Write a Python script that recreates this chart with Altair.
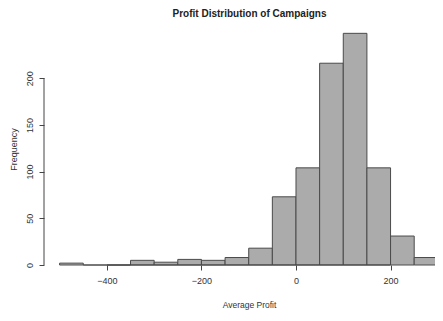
import altair as alt
import pandas as pd

# Histogram bins (width 50) and counts
bin_start = [-500, -450, -400, -350, -300, -250, -200, -150, -100, -50, 0, 50, 100, 150, 200, 250]
bin_end = [-450, -400, -350, -300, -250, -200, -150, -100, -50, 0, 50, 100, 150, 200, 250, 300]
counts = [2, 0, 0, 5, 3, 6, 5, 8, 18, 73, 104, 216, 248, 104, 31, 8]

x_ticks = [-400, -200, 0, 200]
y_ticks = [0, 50, 100, 150, 200]

df = pd.DataFrame({"start": bin_start, "end": bin_end, "count": counts})
yaxis_df = pd.DataFrame({"lo": [y_ticks[0]], "hi": [y_ticks[-1]]})
xaxis_df = pd.DataFrame({"lo": [x_ticks[0]], "hi": [x_ticks[-1]]})

FONT = "Liberation Sans"
xscale = alt.Scale(domain=[-533, 294], nice=False, zero=False)
yscale = alt.Scale(domain=[0, 258], nice=False, zero=False)

bars = alt.Chart(df).mark_rect(fill="#ababab", stroke="#4a4a4a", strokeWidth=1).encode(
    x=alt.X("start:Q", scale=xscale,
            axis=alt.Axis(values=x_ticks, domain=False, grid=False, tickSize=5,
                          tickColor="#444", labelFont=FONT, labelFontSize=9,
                          labelColor="#333", labelPadding=6,
                          title="Average Profit", titleFont=FONT, titleFontSize=8.5,
                          titleFontWeight="normal", titleColor="#333",
                          titleX=205, titleY=39, titleBaseline="middle")),
    x2="end:Q",
    y=alt.Y("count:Q", scale=yscale,
            axis=alt.Axis(values=y_ticks, domain=False, grid=False, tickSize=5,
                          tickColor="#444", labelFont=FONT, labelFontSize=9,
                          labelColor="#333", labelAngle=-90, labelAlign="center",
                          labelBaseline="bottom", labelPadding=5,
                          title="Frequency", titleFont=FONT, titleFontSize=9,
                          titleFontWeight="normal", titleColor="#333",
                          titleAngle=-90, titleX=-31, titleY=125,
                          titleBaseline="middle")),
    y2=alt.datum(0),
)

yaxis_line = alt.Chart(yaxis_df).mark_rule(color="#444", strokeWidth=1).encode(
    x=alt.value(0), y=alt.Y("lo:Q", scale=yscale), y2="hi:Q"
)
xaxis_line = alt.Chart(xaxis_df).mark_rule(color="#444", strokeWidth=1).encode(
    x=alt.X("lo:Q", scale=xscale), x2="hi:Q", y=alt.datum(0)
)

chart = alt.layer(bars, xaxis_line, yaxis_line).properties(
    width=391, height=241,
    title=alt.TitleParams("Profit Distribution of Campaigns", font=FONT, fontSize=10,
                          fontWeight="bold", color="#222", anchor="middle",
                          offset=5, dx=10),
    autosize=alt.AutoSizeParams(type="none"),
    padding={"left": 36, "top": 16, "right": 0, "bottom": 48},
    background="white",
).configure_view(stroke=None)

chart.save("out.html", embed_options={"renderer": "svg", "actions": False})
